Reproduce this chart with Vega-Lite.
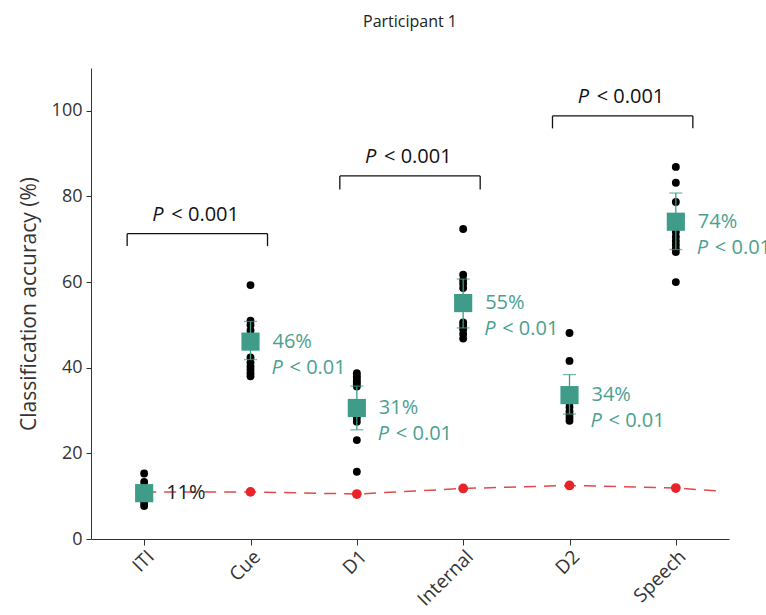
{
  "$schema": "https://vega.github.io/schema/vega-lite/v6.json",
  "autosize": {"type": "none"},
  "padding": {"left": 91, "right": 37, "top": 68, "bottom": 76},
  "width": 638,
  "height": 471,
  "background": "white",
  "config": {
    "font": "Open Sans",
    "view": {"stroke": null},
    "axis": {"grid": false, "domainColor": "#333", "tickColor": "#333", "labelColor": "#333", "titleColor": "#333", "labelFont": "Open Sans", "titleFont": "Open Sans"}
  },
  "title": {"text": "Participant 1", "fontSize": 16, "fontWeight": "normal", "color": "#222", "offset": 38, "anchor": "middle"},
  "datasets": {
    "dots": [
      {"x": 1, "y": 15.3}, {"x": 1, "y": 13.3}, {"x": 1, "y": 12.3}, {"x": 1, "y": 11.4}, {"x": 1, "y": 10.5}, {"x": 1, "y": 9.7}, {"x": 1, "y": 9.0}, {"x": 1, "y": 8.4}, {"x": 1, "y": 7.7},
      {"x": 2, "y": 59.3}, {"x": 2, "y": 51.0}, {"x": 2, "y": 50.0}, {"x": 2, "y": 48.7}, {"x": 2, "y": 42.4}, {"x": 2, "y": 41.2}, {"x": 2, "y": 40.3}, {"x": 2, "y": 39.5}, {"x": 2, "y": 38.7}, {"x": 2, "y": 38.0},
      {"x": 3, "y": 38.7}, {"x": 3, "y": 38.0}, {"x": 3, "y": 37.4}, {"x": 3, "y": 36.8}, {"x": 3, "y": 36.2}, {"x": 3, "y": 35.6}, {"x": 3, "y": 28.3}, {"x": 3, "y": 27.4}, {"x": 3, "y": 23.1}, {"x": 3, "y": 15.7},
      {"x": 4, "y": 72.4}, {"x": 4, "y": 61.7}, {"x": 4, "y": 60.5}, {"x": 4, "y": 59.6}, {"x": 4, "y": 58.6}, {"x": 4, "y": 50.6}, {"x": 4, "y": 49.8}, {"x": 4, "y": 49.0}, {"x": 4, "y": 47.9}, {"x": 4, "y": 46.8},
      {"x": 5, "y": 48.1}, {"x": 5, "y": 41.6}, {"x": 5, "y": 31.8}, {"x": 5, "y": 30.8}, {"x": 5, "y": 29.8}, {"x": 5, "y": 29.0}, {"x": 5, "y": 28.3}, {"x": 5, "y": 27.6},
      {"x": 6, "y": 86.9}, {"x": 6, "y": 83.2}, {"x": 6, "y": 78.7}, {"x": 6, "y": 71.7}, {"x": 6, "y": 70.6}, {"x": 6, "y": 69.6}, {"x": 6, "y": 68.7}, {"x": 6, "y": 67.8}, {"x": 6, "y": 67.0}, {"x": 6, "y": 60.0}
    ],
    "means": [
      {"x": 1, "mean": 10.7, "lo": 9.6, "hi": 11.8, "pct": "11%", "sig": ""},
      {"x": 2, "mean": 46.1, "lo": 41.9, "hi": 50.8, "pct": "46%", "sig": "y"},
      {"x": 3, "mean": 30.6, "lo": 25.5, "hi": 35.7, "pct": "31%", "sig": "y"},
      {"x": 4, "mean": 55.1, "lo": 49.3, "hi": 60.7, "pct": "55%", "sig": "y"},
      {"x": 5, "mean": 33.6, "lo": 29.2, "hi": 38.4, "pct": "34%", "sig": "y"},
      {"x": 6, "mean": 74.1, "lo": 67.6, "hi": 80.8, "pct": "74%", "sig": "y"}
    ],
    "chance": [
      {"x": 1, "y": 11.0, "dot": "y"}, {"x": 2, "y": 11.0, "dot": "y"}, {"x": 3, "y": 10.5, "dot": "y"}, {"x": 4, "y": 11.8, "dot": "y"}, {"x": 5, "y": 12.5, "dot": "y"}, {"x": 6, "y": 11.9, "dot": "y"}, {"x": 6.42, "y": 11.2, "dot": "n"}
    ],
    "brackets": [
      {"x1": 0.84, "x2": 2.16, "top": 71.3, "bot": 68.4, "mid": 1.5, "ty": 75.7},
      {"x1": 2.84, "x2": 4.16, "top": 84.8, "bot": 81.6, "mid": 3.5, "ty": 89.3},
      {"x1": 4.84, "x2": 6.16, "top": 98.8, "bot": 95.9, "mid": 5.5, "ty": 103.3}
    ]
  },
  "layer": [
    {
      "data": {"name": "chance"},
      "mark": {"type": "line", "color": "#de4b4b", "strokeWidth": 1.5, "strokeDash": [12, 8]},
      "encoding": {
        "x": {"field": "x", "type": "quantitative", "scale": {"domain": [0.5, 6.5], "nice": false, "zero": false},
          "axis": {"title": null, "values": [1, 2, 3, 4, 5, 6], "labelExpr": "['','ITI','Cue','D1','Internal','D2','Speech'][datum.value]", "labelAngle": -45, "labelFontSize": 19, "tickSize": 6, "labelPadding": 2}},
        "y": {"field": "y", "type": "quantitative", "scale": {"domain": [0, 110], "nice": false},
          "axis": {"title": "Classification accuracy (%)", "titleFontSize": 21, "titleFontWeight": "normal", "titlePadding": 12, "values": [0, 20, 40, 60, 80, 100], "labelFontSize": 18, "tickSize": 5, "labelPadding": 4}}
      }
    },
    {
      "data": {"name": "chance"},
      "transform": [{"filter": "datum.dot == 'y'"}],
      "mark": {"type": "circle", "color": "#e8242a", "opacity": 1, "size": 95},
      "encoding": {"x": {"field": "x", "type": "quantitative"}, "y": {"field": "y", "type": "quantitative"}}
    },
    {
      "data": {"name": "dots"},
      "mark": {"type": "circle", "color": "#000", "opacity": 1, "size": 62},
      "encoding": {"x": {"field": "x", "type": "quantitative"}, "y": {"field": "y", "type": "quantitative"}}
    },
    {
      "data": {"name": "means"},
      "mark": {"type": "rule", "color": "#3f9c89", "strokeWidth": 1.3},
      "encoding": {"x": {"field": "x", "type": "quantitative"}, "y": {"field": "lo", "type": "quantitative"}, "y2": {"field": "hi"}}
    },
    {
      "data": {"name": "means"},
      "mark": {"type": "tick", "orient": "horizontal", "color": "#3f9c89", "size": 13, "thickness": 1.3},
      "encoding": {"x": {"field": "x", "type": "quantitative"}, "y": {"field": "lo", "type": "quantitative"}}
    },
    {
      "data": {"name": "means"},
      "mark": {"type": "tick", "orient": "horizontal", "color": "#3f9c89", "size": 13, "thickness": 1.3},
      "encoding": {"x": {"field": "x", "type": "quantitative"}, "y": {"field": "hi", "type": "quantitative"}}
    },
    {
      "data": {"name": "means"},
      "mark": {"type": "point", "shape": "square", "filled": true, "color": "#3f9c89", "opacity": 1, "size": 330},
      "encoding": {"x": {"field": "x", "type": "quantitative"}, "y": {"field": "mean", "type": "quantitative"}}
    },
    {
      "data": {"name": "means"},
      "mark": {"type": "text", "align": "left", "baseline": "middle", "dx": 22, "fontSize": 20},
      "encoding": {
        "x": {"field": "x", "type": "quantitative"}, "y": {"field": "mean", "type": "quantitative"},
        "text": {"field": "pct"},
        "color": {"condition": {"test": "datum.sig == 'y'", "value": "#4aa18f"}, "value": "#222"}
      }
    },
    {
      "data": {"name": "means"},
      "transform": [{"filter": "datum.sig == 'y'"}],
      "mark": {"type": "text", "align": "left", "baseline": "middle", "dx": 21, "dy": 26, "fontSize": 20, "fontStyle": "italic", "color": "#4aa18f"},
      "encoding": {"x": {"field": "x", "type": "quantitative"}, "y": {"field": "mean", "type": "quantitative"}, "text": {"value": "P"}}
    },
    {
      "data": {"name": "means"},
      "transform": [{"filter": "datum.sig == 'y'"}],
      "mark": {"type": "text", "align": "left", "baseline": "middle", "dx": 39, "dy": 26, "fontSize": 20, "color": "#4aa18f"},
      "encoding": {"x": {"field": "x", "type": "quantitative"}, "y": {"field": "mean", "type": "quantitative"}, "text": {"value": "< 0.01"}}
    },
    {
      "data": {"name": "brackets"},
      "mark": {"type": "rule", "color": "#111", "strokeWidth": 1.3},
      "encoding": {"x": {"field": "x1", "type": "quantitative"}, "x2": {"field": "x2"}, "y": {"field": "top", "type": "quantitative"}}
    },
    {
      "data": {"name": "brackets"},
      "mark": {"type": "rule", "color": "#111", "strokeWidth": 1.3},
      "encoding": {"x": {"field": "x1", "type": "quantitative"}, "y": {"field": "top", "type": "quantitative"}, "y2": {"field": "bot"}}
    },
    {
      "data": {"name": "brackets"},
      "mark": {"type": "rule", "color": "#111", "strokeWidth": 1.3},
      "encoding": {"x": {"field": "x2", "type": "quantitative"}, "y": {"field": "top", "type": "quantitative"}, "y2": {"field": "bot"}}
    },
    {
      "data": {"name": "brackets"},
      "mark": {"type": "text", "align": "left", "baseline": "middle", "dx": -45, "fontSize": 20, "fontStyle": "italic", "color": "#111"},
      "encoding": {"x": {"field": "mid", "type": "quantitative"}, "y": {"field": "ty", "type": "quantitative"}, "text": {"value": "P"}}
    },
    {
      "data": {"name": "brackets"},
      "mark": {"type": "text", "align": "left", "baseline": "middle", "dx": -26, "fontSize": 20, "color": "#111"},
      "encoding": {"x": {"field": "mid", "type": "quantitative"}, "y": {"field": "ty", "type": "quantitative"}, "text": {"value": "< 0.001"}}
    }
  ]
}
